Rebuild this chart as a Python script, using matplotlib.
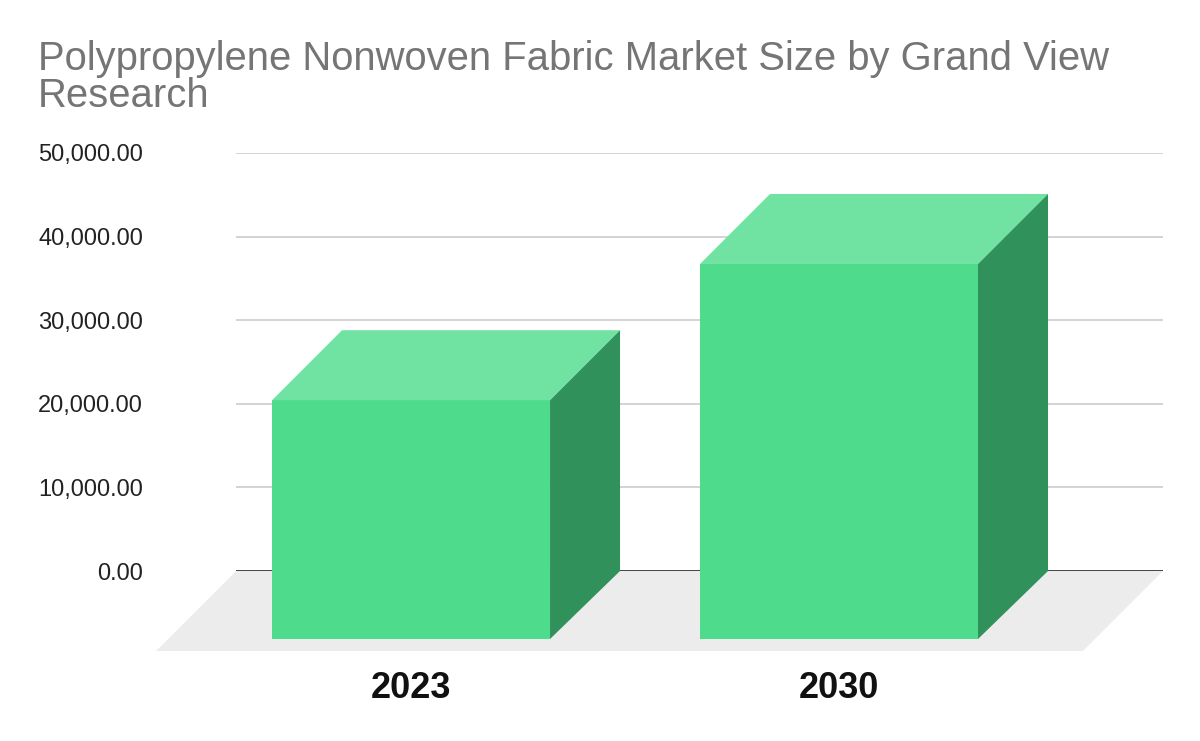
import matplotlib.pyplot as plt
from matplotlib.patches import Polygon

plt.rcParams['font.family'] = ['Liberation Sans', 'DejaVu Sans']

# data
years = ['2023', '2030']
market_size = [28800, 45100]
y_ticks = [0, 10000, 20000, 30000, 40000, 50000]

front_c = '#4edb8b'
top_c = '#70e2a2'
side_c = '#31915b'

W, H = 1200, 741
fig = plt.figure(figsize=(W / 100, H / 100), dpi=100)

# axes placed so that 0 sits at y=571px and 50,000 at y=153px
ax = fig.add_axes([236 / W, (H - 571) / H, (1163 - 236) / W, (571 - 153) / H])
ax.set_ylim(0, 50000)
ax.set_xlim(-0.409, 1.757)

px_x = 1 / 428.0            # x data units per pixel
px_y = 50000 / 418.0        # y data units per pixel
bw = 278 * px_x             # bar width
dx, dy = 70 * px_x, 70 * px_y   # 3D depth of bars
base = -68 * px_y               # bottom of the front face
fx, fy = 80 * px_x, 80 * px_y   # depth of floor

x0, x1 = ax.get_xlim()
floor = Polygon([(x0, 0), (x1, 0), (x1 - fx, -fy), (x0 - fx, -fy)],
                closed=True, facecolor='#ececec', edgecolor='none',
                clip_on=False, zorder=1)
ax.add_patch(floor)

for i, v in enumerate(market_size):
    l, r = i - bw / 2, i + bw / 2
    front = Polygon([(l, base), (r, base), (r, v - dy), (l, v - dy)],
                    facecolor=front_c, edgecolor='none', clip_on=False, zorder=5)
    top = Polygon([(l, v - dy), (r, v - dy), (r + dx, v), (l + dx, v)],
                  facecolor=top_c, edgecolor='none', clip_on=False, zorder=5)
    side = Polygon([(r, base), (r + dx, 0), (r + dx, v), (r, v - dy)],
                   facecolor=side_c, edgecolor='none', clip_on=False, zorder=5)
    for p in (front, top, side):
        ax.add_patch(p)

# gridlines and base line
for t in y_ticks[1:]:
    ax.axhline(t, color='#cccccc', linewidth=1.2, zorder=2)
ax.axhline(0, color='#333333', linewidth=2, zorder=3)

for s in ax.spines.values():
    s.set_visible(False)
ax.set_yticks(y_ticks)
ax.set_yticklabels([f'{t:,.2f}' for t in y_ticks], fontsize=17, color='#222222')
ax.tick_params(axis='y', length=0, pad=67)
ax.set_xticks(range(len(years)))
ax.set_xticklabels(years, fontsize=26, fontweight='bold', color='#111111')
ax.tick_params(axis='x', length=0, pad=72)
ax.set_facecolor('none')

fig.text(38 / W, 1 - 40 / H,
         'Polypropylene Nonwoven Fabric Market Size by Grand View\nResearch',
         fontsize=28.8, color='#757575', ha='left', va='top', linespacing=0.98)

fig.savefig('out.png', dpi=100)
